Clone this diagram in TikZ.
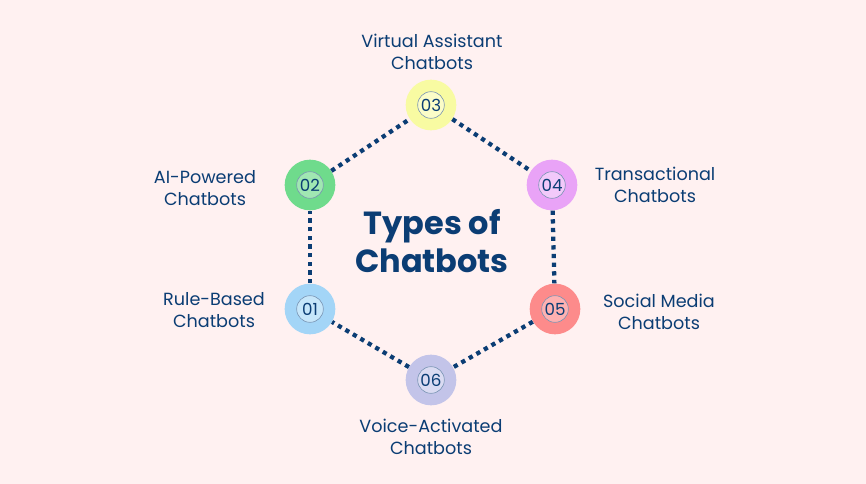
\documentclass[tikz,border=0pt]{standalone}
\usepackage{fontspec}
\setmainfont{Poppins}
\usetikzlibrary{positioning}

\definecolor{bgpink}{HTML}{FFF1F1}
\definecolor{navy}{HTML}{0B3D74}
\definecolor{blueout}{HTML}{A3D5F7}
\definecolor{bluein}{HTML}{C6E6FA}
\definecolor{greenout}{HTML}{6FDB8C}
\definecolor{greenin}{HTML}{A0E7B2}
\definecolor{yellowout}{HTML}{F8FBA2}
\definecolor{yellowin}{HTML}{FBFDC8}
\definecolor{violetout}{HTML}{E9A3F7}
\definecolor{violetin}{HTML}{F2C9FA}
\definecolor{redout}{HTML}{FD8B8B}
\definecolor{redin}{HTML}{FEB1B1}
\definecolor{lilacout}{HTML}{C3C4E9}
\definecolor{lilacin}{HTML}{DADBF2}

\begin{document}
\begin{tikzpicture}[
  x=0.75pt, y=-0.75pt,
  bubble/.style={
    circle,
    minimum size=38pt,
    inner sep=0pt
  },
  badge/.style={
    circle,
    draw=navy!55,
    line width=0.45pt,
    minimum size=20pt,
    inner sep=0pt,
    text=navy,
    font=\fontsize{12.5}{12.5}\selectfont
  },
  caption/.style={
    align=center,
    text=navy,
    font=\fontsize{13.2}{16.5}\selectfont
  },
  title/.style={
    align=center,
    text=navy,
    font=\fontsize{24}{28.5}\selectfont\bfseries
  },
  link/.style={
    navy,
    line width=3.2pt,
    dash pattern=on 3.2pt off 3.3pt
  }
]

% Background
\fill[bgpink] (0,0) rectangle (866,484);
\useasboundingbox (0,0) rectangle (866,484);

% Outer rings
\node[bubble, fill=blueout] (c01) at (310,309) {};
\node[bubble, fill=greenout] (c02) at (310,185) {};
\node[bubble, fill=yellowout] (c03) at (431,105) {};
\node[bubble, fill=violetout] (c04) at (552,185) {};
\node[bubble, fill=redout] (c05) at (555,309) {};
\node[bubble, fill=lilacout] (c06) at (431,380) {};

% Dotted hexagon
\draw[link] (c01) -- (c02);
\draw[link] (c02) -- (c03);
\draw[link] (c03) -- (c04);
\draw[link] (c04) -- (c05);
\draw[link] (c05) -- (c06);
\draw[link] (c06) -- (c01);

% Number badges
\node[badge, fill=bluein] (n01) at (c01) {01};
\node[badge, fill=greenin] (n02) at (c02) {02};
\node[badge, fill=yellowin] (n03) at (c03) {03};
\node[badge, fill=violetin] (n04) at (c04) {04};
\node[badge, fill=redin] (n05) at (c05) {05};
\node[badge, fill=lilacin] (n06) at (c06) {06};

% Captions
\node[caption] (t01) at (214,310) {Rule-Based\\Chatbots};
\node[caption] (t02) at (205,188) {AI-Powered\\Chatbots};
\node[caption] (t03) at (432,52) {Virtual Assistant\\Chatbots};
\node[caption] (t04) at (655,185) {Transactional\\Chatbots};
\node[caption] (t05) at (659,312) {Social Media\\Chatbots};
\node[caption] (t06) at (431,437) {Voice-Activated\\Chatbots};

% Centre title
\node[title] (head) at (432,241) {Types of\\Chatbots};

\end{tikzpicture}
\end{document}
